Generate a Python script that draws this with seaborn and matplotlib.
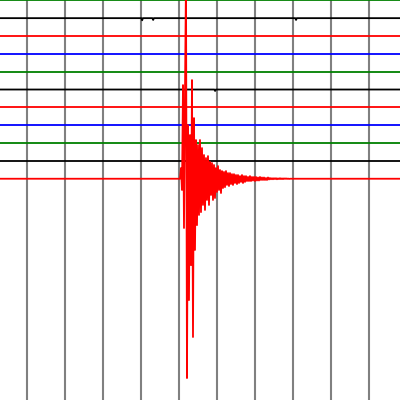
import numpy as np
import pandas as pd
import seaborn as sns
import matplotlib
matplotlib.use("Agg")
import matplotlib.pyplot as plt

# helicorder style: 11 stacked trace lines, colours cycling from the top
trace_offsets = [0, 1, 2, 3, 4, 5, 6, 7, 8, 9, 10]
trace_colors = ["green", "black", "red", "blue", "green", "black",
                "red", "blue", "green", "black", "red"]

x_start, x_end = -0.72, 9.82
grid_times = [0, 1, 2, 3, 4, 5, 6, 7, 8, 9]

# small glitches on the black traces (time, amplitude)
glitch_trace = [1, 1, 1, 5]
glitch_time = [3.03, 3.32, 7.08, 4.95]
glitch_amp = [-0.12, -0.10, -0.10, -0.08]

# the event on the last (red) trace, one sample every 1/38 time unit
quake_t0 = 4.026
quake_step = 1 / 38
quake_amp = [
    0, 0.60, -0.63, 5.25, -2.76, 4.86, 11.2, -11.17, 3.01, -6.80,
    2.45, -4.84, 5.53, -8.87, 3.40, -3.99, 2.17, -2.60, 1.89, -2.03,
    2.17, -1.87, 1.72, -1.47, 1.33, -1.75, 1.16, -1.19, 1.27, -1.47,
    0.94, -0.91, 0.88, -1.19, 0.77, -1.08, 0.60, -0.74, 0.71, -0.63,
    0.49, -0.80, 0.43, -0.52, 0.38, -0.47, 0.43, -0.35, 0.32, -0.41,
    0.32, -0.30, 0.26, -0.35, 0.26, -0.24, 0.21, -0.30, 0.21, -0.24,
    0.15, -0.18, 0.21, -0.24, 0.15, -0.18, 0.15, -0.13, 0.10, -0.13,
    0.15, -0.13, 0.10, -0.10, 0.10, -0.13, 0.10, -0.10, 0.07, -0.10,
    0.10, -0.07, 0.07, -0.07, 0.07, -0.07, 0.04, -0.07, 0.07, -0.04,
    0.04, -0.03, 0.03, -0.03, 0.03, -0.02, 0.03, -0.03, 0.02, -0.02,
    0.03, -0.02, 0.02, -0.02, 0.02, -0.01, 0.02, -0.01, 0.01, -0.01,
    0,
]

rows = []
for i, off in enumerate(trace_offsets):
    pts = [(x_start, 0.0), (x_end, 0.0)]
    for tr, t, a in zip(glitch_trace, glitch_time, glitch_amp):
        if tr == i:
            pts += [(t - 0.02, 0.0), (t, a), (t + 0.02, 0.0)]
    if i == 10:
        qt = quake_t0 + quake_step * np.arange(len(quake_amp))
        pts += list(zip(qt, quake_amp))
    pts.sort(key=lambda p: p[0])
    for t, a in pts:
        rows.append({"time": t, "y": off - a, "trace": i})
df = pd.DataFrame(rows)

sns.set_style("white")
fig = plt.figure(figsize=(4, 4), dpi=100)
ax = fig.add_axes([0, 0, 1, 1])

sns.lineplot(data=df, x="time", y="y", hue="trace", palette=trace_colors,
             estimator=None, sort=False, legend=False, linewidth=1.3, ax=ax)

ax.set_xlim(-27 / 38, 373 / 38)
ax.set_ylim(22.40, -0.017)
ax.set_xticks(grid_times)
ax.set_yticks([])
ax.set_axisbelow(True)
ax.grid(axis="x", color="gray", linewidth=1.5)
ax.tick_params(length=0, labelbottom=False, labelleft=False)
ax.set_xlabel("")
ax.set_ylabel("")
for s in ax.spines.values():
    s.set_visible(False)

fig.savefig("out.png", dpi=100)
